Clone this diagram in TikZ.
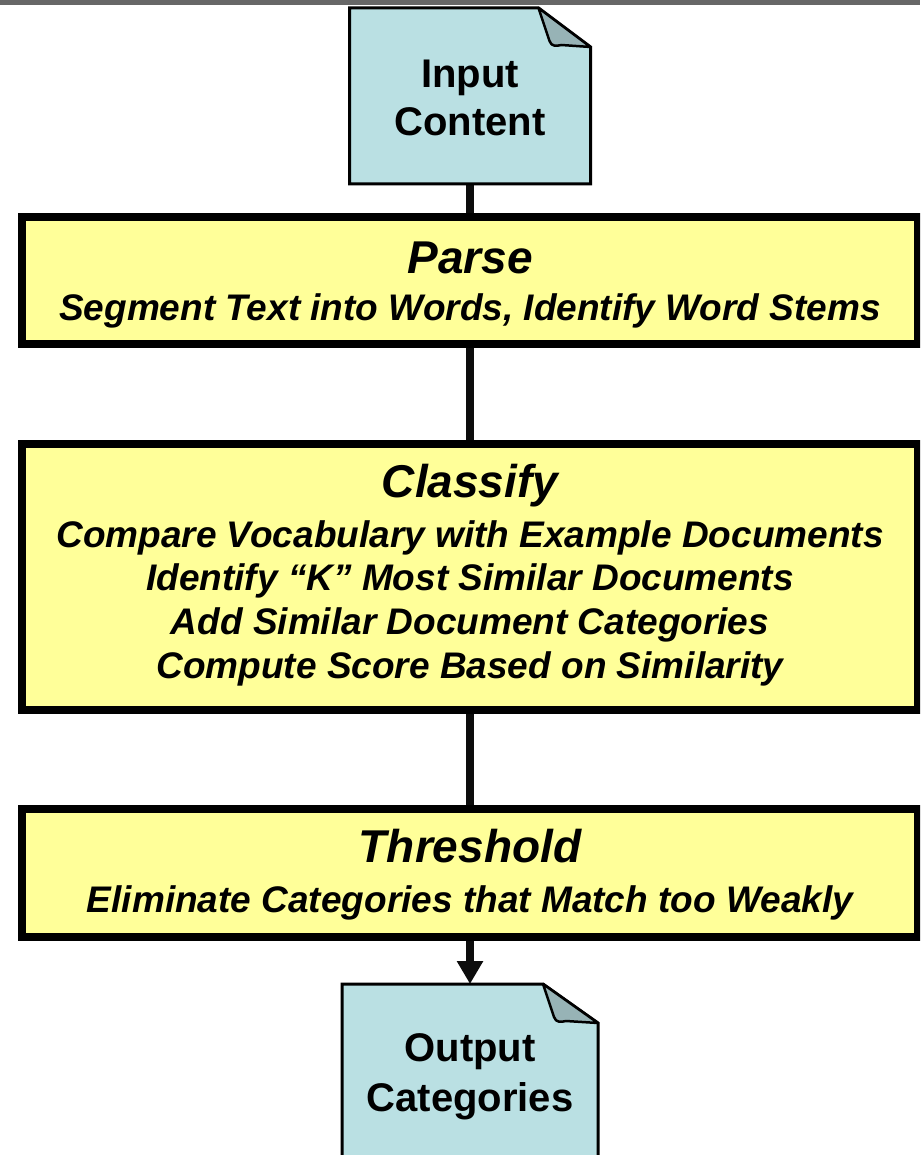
\documentclass[tikz,border=0pt]{standalone}
\usepackage{fontspec}
\setmainfont{Liberation Sans}
\usetikzlibrary{arrows.meta,calc}
\definecolor{boxyellow}{HTML}{FFFF99}
\definecolor{docblue}{HTML}{BAE0E3}
\definecolor{foldgray}{HTML}{97B3B6}
\definecolor{bargray}{HTML}{676767}
\definecolor{connblack}{HTML}{0D0D0D}
\tikzset{
  stepbox/.style={draw=black, fill=boxyellow, line width=8pt, minimum width=896pt, inner sep=0pt, rectangle},
  docnode/.style={draw=none, inner sep=0pt, outer sep=0pt, rectangle},
  docline/.style={draw=black, fill=docblue, line width=3pt, line join=miter},
  foldline/.style={draw=black, fill=foldgray, line width=2.5pt, line join=round},
  conn/.style={draw=connblack, line width=8pt},
  doctext/.style={font=\fontsize{40}{44}\selectfont\bfseries, inner sep=0pt, anchor=base},
  titletext/.style={font=\fontsize{46}{50}\selectfont\bfseries\itshape, inner sep=0pt, anchor=base},
  subtext/.style={font=\fontsize{37}{41}\selectfont\bfseries\itshape, inner sep=0pt, anchor=base},
}
\begin{document}
\begin{tikzpicture}[x=1pt,y=-1pt]
\useasboundingbox (0,0) rectangle (920,1155);
\clip (0,0) rectangle (920,1155);
\fill[bargray] (0,0) rectangle (920,5);

% nodes
\node[docnode, minimum width=241pt, minimum height=176pt] (in) at (470,96) {};
\node[stepbox, minimum height=127pt] (parse) at (470,280.5) {};
\node[stepbox, minimum height=266pt] (classify) at (470,577) {};
\node[stepbox, minimum height=128pt] (thresh) at (470,873) {};
\node[docnode, minimum width=256pt, minimum height=216pt] (out) at (470,1092) {};

% connectors
\draw[conn] (in.south) -- (parse.north);
\draw[conn] (parse.south) -- (classify.north);
\draw[conn] (classify.south) -- (thresh.north);
\draw[conn, -{Triangle[width=25pt,length=23pt]}] (thresh.south) -- (out.north);

% input document
\path[docline] (in.north west) -- ($(in.north east)+(-52,0)$) -- ($(in.north east)+(0,39)$) -- (in.south east) -- (in.south west) -- cycle;
\path[foldline] ($(in.north east)+(-52,0)$) -- ($(in.north east)+(-41,33)$) .. controls ($(in.north east)+(-39,39)$) and ($(in.north east)+(-34,38)$) .. ($(in.north east)+(-29,37)$) -- ($(in.north east)+(0,39)$) -- cycle;
\node[doctext] (inA) at (470,88) {Input};
\node[doctext] (inB) at (470,136) {Content};

% output document
\path[docline] (out.north west) -- ($(out.north east)+(-55,0)$) -- ($(out.north east)+(0,39)$) -- (out.south east) -- (out.south west) -- cycle;
\path[foldline] ($(out.north east)+(-55,0)$) -- ($(out.north east)+(-44,33)$) .. controls ($(out.north east)+(-42,39)$) and ($(out.north east)+(-37,38)$) .. ($(out.north east)+(-32,37)$) -- ($(out.north east)+(0,39)$) -- cycle;
\node[doctext] (outA) at (470,1061) {Output};
\node[doctext] (outB) at (470,1111) {Categories};

% texts
\node[titletext] (parseT) at (470,274) {Parse};
\node[subtext] (parseS) at (470,320) {Segment Text into Words, Identify Word Stems};

\node[titletext] (classT) at (470,497) {Classify};
\node[subtext] (classS1) at (470,547) {Compare Vocabulary with Example Documents};
\node[subtext] (classS2) at (470,590) {Identify “K” Most Similar Documents};
\node[subtext] (classS3) at (470,634) {Add Similar Document Categories};
\node[subtext] (classS4) at (470,678) {Compute Score Based on Similarity};

\node[titletext] (threshT) at (470,862) {Threshold};
\node[subtext] (threshS) at (470,912) {Eliminate Categories that Match too Weakly};
\end{tikzpicture}
\end{document}
